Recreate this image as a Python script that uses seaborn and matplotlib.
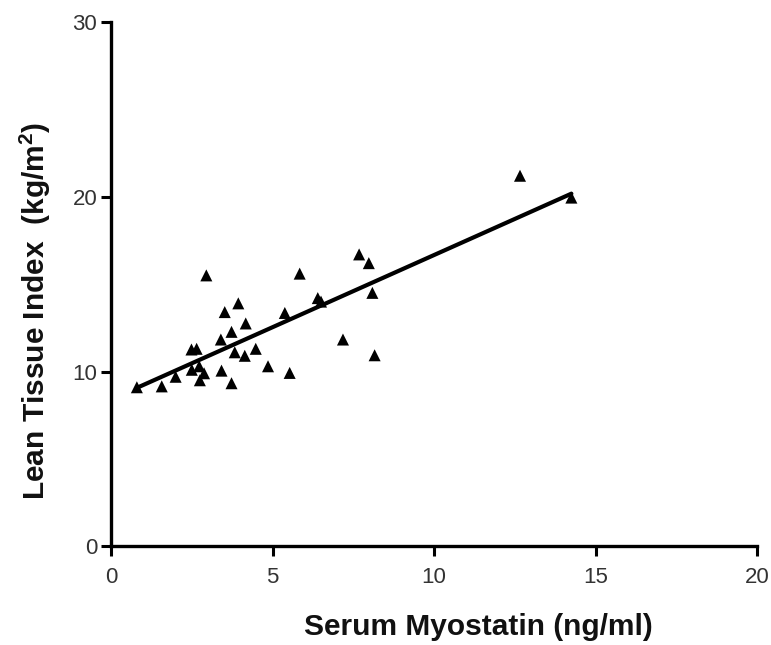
import matplotlib
matplotlib.use('Agg')
import matplotlib.pyplot as plt
import numpy as np
import pandas as pd
import seaborn as sns

# values
myostatin = [0.80, 1.57, 2.00, 2.49, 2.65, 2.50, 2.73, 2.88, 2.75, 2.95,
             3.42, 3.40, 3.52, 3.73, 3.73, 3.83, 3.94, 4.14, 4.17, 4.48,
             4.86, 5.38, 5.53, 5.84, 6.40, 6.50, 7.18, 7.68, 7.98, 8.09,
             8.16, 12.66, 14.25]
lean_index = [9.10, 9.15, 9.70, 11.26, 11.30, 10.10, 10.30, 9.90, 9.50, 15.50,
              10.05, 11.83, 13.40, 12.27, 9.33, 11.10, 13.90, 10.90, 12.75, 11.30,
              10.30, 13.35, 9.92, 15.60, 14.20, 14.00, 11.83, 16.70, 16.20, 14.50,
              10.93, 21.20, 19.95]

x_ticks = [0, 5, 10, 15, 20]
y_ticks = [0, 10, 20, 30]

df = pd.DataFrame({'myostatin': myostatin, 'lti': lean_index})

sns.set_theme(style='ticks')
plt.rcParams['font.family'] = ['Liberation Sans', 'DejaVu Sans']
plt.rcParams['mathtext.fontset'] = 'custom'
plt.rcParams['mathtext.bf'] = 'Liberation Sans:bold'
plt.rcParams['mathtext.rm'] = 'Liberation Sans'

fig = plt.figure(figsize=(7.71, 6.45), dpi=100)
ax = fig.add_axes([0.144, 0.153, 0.838, 0.813])

sns.regplot(x='myostatin', y='lti', data=df, ax=ax, ci=None, marker='^',
            color='black',
            scatter_kws={'s': 75, 'edgecolor': 'none', 'alpha': 1},
            line_kws={'lw': 3, 'color': 'black'})

ax.set_xlim(0, 20)
ax.set_ylim(0, 30)
ax.set_xticks(x_ticks)
ax.set_yticks(y_ticks)
ax.tick_params(axis='both', direction='out', length=7, width=2.2,
               labelsize=16, colors='black', labelcolor='#333333')
ax.tick_params(axis='x', pad=8)
ax.tick_params(axis='y', pad=3)
for side in ['top', 'right']:
    ax.spines[side].set_visible(False)
for side in ['left', 'bottom']:
    ax.spines[side].set_linewidth(2.4)
    ax.spines[side].set_color('black')

ax.set_xlabel('Serum Myostatin (ng/ml)', fontsize=21.5, fontweight='bold',
              labelpad=18, color='#111111')
ax.set_ylabel(r'Lean Tissue Index  (kg/m$\mathbf{^2}$)', fontsize=21.5,
              fontweight='bold', labelpad=14, color='#111111')
# labels sit off-centre in the reference
ax.xaxis.label.set_x(0.569)
ax.yaxis.label.set_y(0.45)

fig.savefig('out.png', dpi=100)
